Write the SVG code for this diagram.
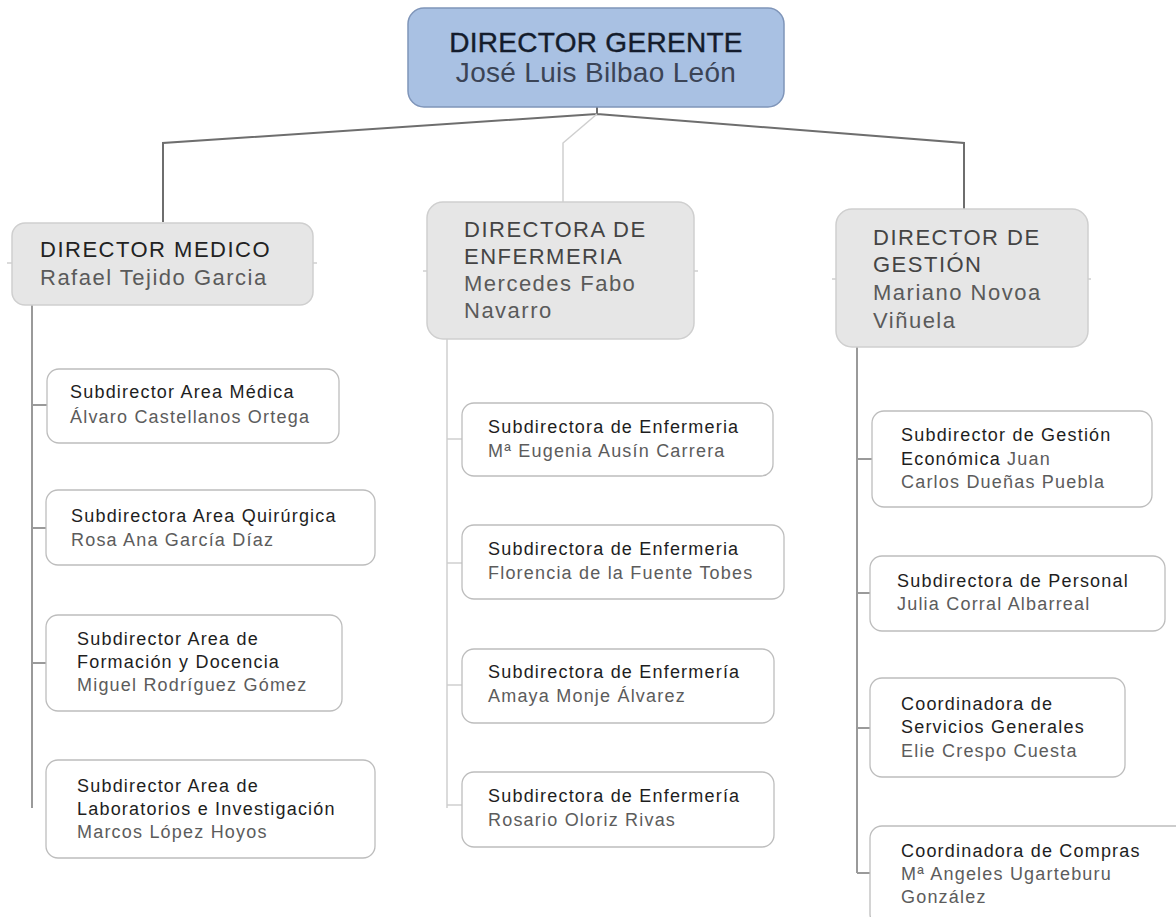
<svg xmlns="http://www.w3.org/2000/svg" width="1176" height="917" viewBox="0 0 1176 917">
<style>
text{font-family:"Liberation Sans",Arial,sans-serif}
.top{fill:#a9c1e3;stroke:#7f95b9;stroke-width:1.5}
.dir{fill:#e6e6e6;stroke:#cfcfcf;stroke-width:1.5}
.sub{fill:#ffffff;stroke:#bdbdbd;stroke-width:1.3}
.t0{font-size:28px;fill:#141c2c;stroke:#141c2c;stroke-width:0.4;letter-spacing:0.3px}
.n0{font-size:28px;fill:#3b4456;letter-spacing:0.3px}
.dt{font-size:22px;fill:#444;letter-spacing:1.5px}
.dtk{font-size:22px;fill:#222;letter-spacing:1.5px}
.dn{font-size:22px;fill:#5a5a5a;letter-spacing:1.5px}
.st{font-size:18px;fill:#1e1e1e;letter-spacing:1.2px}
.sn{font-size:18px;fill:#5c5c5c;letter-spacing:1.2px}
.c1{fill:none;stroke:#6e6e6e;stroke-width:2}
.c2{fill:none;stroke:#9a9a9a;stroke-width:2}
.c3{fill:none;stroke:#cfcfcf;stroke-width:1.5}
</style>
<rect width="1176" height="917" fill="#ffffff"/>
<g id="connectors">
<path class="c1" d="M597,107 L597,114 M597,114 L163,143 L163,222 M597,114 L964,143 L964,209"/>
<path class="c3" d="M597,114 L563,143 L563,202"/>
<path class="c2" d="M32,305 L32,808 M32,405 L47,405 M32,528 L46,528 M32,663 L46,663"/>
<path class="c3" d="M447,339 L447,808 M447,439 L462,439 M447,563 L462,563 M447,685 L462,685 M447,805 L462,805"/>
<path class="c2" d="M857,347 L857,873 M857,459 L872,459 M857,593 L870,593 M857,728 L870,728 M857,873 L870,873"/>
<path class="c3" d="M7,263 L12,263 M313,263 L317,263 M423,271 L427,271 M694,271 L698,271 M832,279 L836,279 M1088,279 L1091,279"/>
</g>
<g id="director-gerente">
<rect class="top" x="408" y="8" width="376" height="99" rx="16"/>
<text class="t0" x="596" y="52" text-anchor="middle">DIRECTOR GERENTE</text>
<text class="n0" x="596" y="82" text-anchor="middle">José Luis Bilbao León</text>
</g>
<g id="director-medico">
<rect class="dir" x="12" y="223" width="301" height="82" rx="13"/>
<text class="dtk" x="40" y="257">DIRECTOR MEDICO</text>
<text class="dn" x="40" y="285">Rafael Tejido Garcia</text>
</g>
<g id="directora-enfermeria">
<rect class="dir" x="427" y="202" width="267" height="137" rx="16"/>
<text class="dt" x="464" y="237">DIRECTORA DE</text>
<text class="dt" x="464" y="264">ENFERMERIA</text>
<text class="dn" x="464" y="291">Mercedes Fabo</text>
<text class="dn" x="464" y="318">Navarro</text>
</g>
<g id="director-gestion">
<rect class="dir" x="836" y="209" width="252" height="138" rx="16"/>
<text class="dt" x="873" y="245">DIRECTOR DE</text>
<text class="dt" x="873" y="272">GESTIÓN</text>
<text class="dn" x="873" y="300">Mariano Novoa</text>
<text class="dn" x="873" y="328">Viñuela</text>
</g>
<g id="sub-area-medica">
<rect class="sub" x="47" y="369" width="292" height="74" rx="12"/>
<text class="st" x="70" y="398">Subdirector Area Médica</text>
<text class="sn" x="70" y="423">Álvaro Castellanos Ortega</text>
</g>
<g id="sub-area-quirurgica">
<rect class="sub" x="46" y="490" width="329" height="75" rx="12"/>
<text class="st" x="71" y="522">Subdirectora Area Quirúrgica</text>
<text class="sn" x="71" y="546">Rosa Ana García Díaz</text>
</g>
<g id="sub-formacion">
<rect class="sub" x="46" y="615" width="296" height="96" rx="12"/>
<text class="st" x="77" y="645">Subdirector Area de</text>
<text class="st" x="77" y="668">Formación y Docencia</text>
<text class="sn" x="77" y="691">Miguel Rodríguez Gómez</text>
</g>
<g id="sub-laboratorios">
<rect class="sub" x="46" y="760" width="329" height="98" rx="12"/>
<text class="st" x="77" y="792">Subdirector Area de</text>
<text class="st" x="77" y="815">Laboratorios e Investigación</text>
<text class="sn" x="77" y="838">Marcos López Hoyos</text>
</g>
<g id="sub-enf-1">
<rect class="sub" x="462" y="403" width="311" height="73" rx="12"/>
<text class="st" x="488" y="433">Subdirectora de Enfermeria</text>
<text class="sn" x="488" y="457">Mª Eugenia Ausín Carrera</text>
</g>
<g id="sub-enf-2">
<rect class="sub" x="462" y="525" width="322" height="74" rx="12"/>
<text class="st" x="488" y="555">Subdirectora de Enfermeria</text>
<text class="sn" x="488" y="579">Florencia de la Fuente Tobes</text>
</g>
<g id="sub-enf-3">
<rect class="sub" x="462" y="649" width="312" height="74" rx="12"/>
<text class="st" x="488" y="678">Subdirectora de Enfermería</text>
<text class="sn" x="488" y="702">Amaya Monje Álvarez</text>
</g>
<g id="sub-enf-4">
<rect class="sub" x="462" y="772" width="312" height="75" rx="12"/>
<text class="st" x="488" y="802">Subdirectora de Enfermería</text>
<text class="sn" x="488" y="826">Rosario Oloriz Rivas</text>
</g>
<g id="sub-gestion-economica">
<rect class="sub" x="872" y="411" width="280" height="96" rx="12"/>
<text class="st" x="901" y="441">Subdirector de Gestión</text>
<text x="901" y="465"><tspan class="st">Económica</tspan><tspan class="sn"> Juan</tspan></text>
<text class="sn" x="901" y="488">Carlos Dueñas Puebla</text>
</g>
<g id="sub-personal">
<rect class="sub" x="870" y="556" width="295" height="75" rx="12"/>
<text class="st" x="897" y="587">Subdirectora de Personal</text>
<text class="sn" x="897" y="610">Julia Corral Albarreal</text>
</g>
<g id="coord-servicios">
<rect class="sub" x="870" y="678" width="255" height="99" rx="12"/>
<text class="st" x="901" y="710">Coordinadora de</text>
<text class="st" x="901" y="733">Servicios Generales</text>
<text class="sn" x="901" y="757">Elie Crespo Cuesta</text>
</g>
<g id="coord-compras">
<rect class="sub" x="870" y="826" width="320" height="100" rx="12"/>
<text class="st" x="901" y="857">Coordinadora de Compras</text>
<text class="sn" x="901" y="880">Mª Angeles Ugarteburu</text>
<text class="sn" x="901" y="903">González</text>
</g>
</svg>
